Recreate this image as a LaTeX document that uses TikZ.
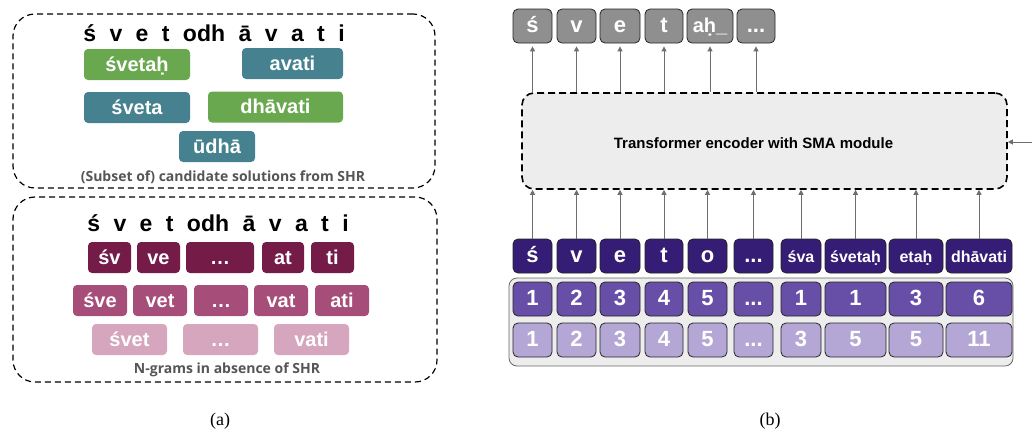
\documentclass[tikz,border=0pt]{standalone}
\usepackage{fontspec}
\setmainfont{Liberation Sans}
\newfontfamily\capfont{Open Sans}
\newfontfamily\subfont{Liberation Serif}
\newfontfamily\wordfont[WordSpace=2.1]{Liberation Sans}
\usetikzlibrary{arrows.meta}
\definecolor{shrgreen}{HTML}{6AA84F}
\definecolor{shrteal}{HTML}{45818E}
\definecolor{gramA}{HTML}{741B47}
\definecolor{gramB}{HTML}{A64D79}
\definecolor{gramC}{HTML}{D5A6BD}
\definecolor{tokdark}{HTML}{351C75}
\definecolor{posA}{HTML}{674EA7}
\definecolor{posB}{HTML}{B4A7D6}
\definecolor{outgray}{HTML}{8F8F8F}
\definecolor{capgray}{HTML}{555555}
\definecolor{arrgray}{HTML}{6E6E6E}
\newcommand{\wsz}{\fontsize{16}{18}\selectfont}
\newcommand{\osz}{\fontsize{20}{22}\selectfont}
\newcommand{\tdots}{...}

\begin{document}
\begin{tikzpicture}[x=1pt,y=-1pt,
   every node/.style={inner sep=0pt, font=\bfseries},
   dashbox/.style={draw, dashed, dash pattern=on 6pt off 4pt, line width=1.2pt, rounded corners=22pt},
   word/.style={font=\wordfont\bfseries\fontsize{23}{26}\selectfont},
   caption/.style={text=capgray, font=\capfont\bfseries\fontsize{14}{16}\selectfont},
   tile/.style={rounded corners=4pt, text=white, minimum height=31pt,
                text height=16pt, text depth=3pt,
                font=\bfseries\fontsize{20}{24}\selectfont},
   cell/.style={draw=black!85, line width=0.8pt, rounded corners=5pt, text=white,
                minimum height=34pt, text height=15pt, text depth=2pt,
                font=\bfseries\fontsize{22}{24}\selectfont},
   arr/.style={draw=arrgray, line width=1pt, -{Triangle[width=5pt,length=5pt]}},
   sub/.style={font=\subfont\fontsize{18}{20}\selectfont}]

\useasboundingbox (0,0) rectangle (1032,432);

% (a) candidate solutions
\node[dashbox, minimum width=422pt, minimum height=174pt] (cand) at (224,101) {};
\node[word] (candword) at (214,33) {ś v e t odh ā v a t i};
\node[tile, fill=shrgreen, minimum width=106pt] (svetah) at (137,64.5) {śvetaḥ};
\node[tile, fill=shrteal, minimum width=101pt] (avati) at (292.5,63.5) {avati};
\node[tile, fill=shrteal, minimum width=106pt] (sveta) at (137,107.5) {śveta};
\node[tile, fill=shrgreen, minimum width=135pt] (dhavati) at (275.5,107) {dhāvati};
\node[tile, fill=shrteal, minimum width=76pt] (udha) at (217,146.5) {ūdhā};
\node[caption] (candcap) at (223,177) {(Subset of) candidate solutions from SHR};

% (a) n-grams
\node[dashbox, minimum width=424pt, minimum height=185pt] (ngram) at (225,289.5) {};
\node[word] (ngramword) at (218,223) {ś v e t odh ā v a t i};
\foreach \nm/\cx/\w/\t in {bi1/109.5/43/śv, bi2/158.5/43/ve, bi3/220/68/…, bi4/283/42/at, bi5/332.5/43/ti}
  \node[tile, fill=gramA, minimum width=\w pt] (\nm) at (\cx,257.5) {\t};
\foreach \nm/\cx/\t in {tri1/100/śve, tri2/160/vet, tri3/221/…, tri4/281/vat, tri5/342/ati}
  \node[tile, fill=gramB, minimum width=54pt] (\nm) at (\cx,300.5) {\t};
\foreach \nm/\cx/\t in {quad1/129.5/śvet, quad2/220.5/…, quad3/311.5/vati}
  \node[tile, fill=gramC, minimum width=75pt] (\nm) at (\cx,339.5) {\t};
\node[caption] (ngramcap) at (227,370) {N-grams in absence of SHR};

% (b) encoder
\node[draw, fill=black!7, dashed, dash pattern=on 7pt off 4pt, line width=1.6pt,
      rounded corners=12pt, minimum width=485pt, minimum height=96pt] (enc) at (764.5,141) {};
\node[font=\bfseries\fontsize{15}{17}\selectfont] (enclabel) at (753.5,143) {Transformer encoder with SMA module};
\coordinate (side) at (1032,142);
\draw[arr] (side) -- (side -| enc.east);

\node[draw=black!60, line width=0.8pt, fill=black!7, rounded corners=8pt,
      minimum width=504pt, minimum height=88pt] (pos) at (761,322) {};

\foreach \i/\cx/\w/\tok/\p/\q in {1/532.5/39/ś/1/1, 2/576.5/39/v/2/2, 3/620/40/e/3/3,
    4/664/38/t/4/4, 5/707.5/39/o/5/5, 6/753.5/39/\tdots/\tdots/\tdots, 7/801/40/{\wsz śva}/1/3,
    8/855.5/61/{\wsz śvetaḥ}/1/5, 9/916/54/{\wsz etaḥ}/3/5, 10/979/66/{\wsz dhāvati}/6/11} {
  \node[cell, fill=tokdark, minimum width=\w pt] (in\i) at (\cx,256) {\tok};
  \node[cell, fill=posA, minimum width=\w pt] (pa\i) at (\cx,299) {\p};
  \node[cell, fill=posB, minimum width=\w pt] (pb\i) at (\cx,340) {\q};
  \draw[arr] (in\i.north) -- (in\i |- enc.south);
}

\foreach \i/\cx/\w/\tok in {1/532.5/39/ś, 2/576.5/39/v, 3/620/40/e, 4/664/38/t,
    5/710/46/{\osz aḥ\_}, 6/756/38/\tdots} {
  \node[cell, fill=outgray, minimum width=\w pt] (out\i) at (\cx,26) {\tok};
  \draw[arr, shorten >=3pt] (out\i |- enc.north) -- (out\i.south);
}

\node[sub] (suba) at (220,421) {(a)};
\node[sub] (subb) at (770,421) {(b)};

\end{tikzpicture}
\end{document}
